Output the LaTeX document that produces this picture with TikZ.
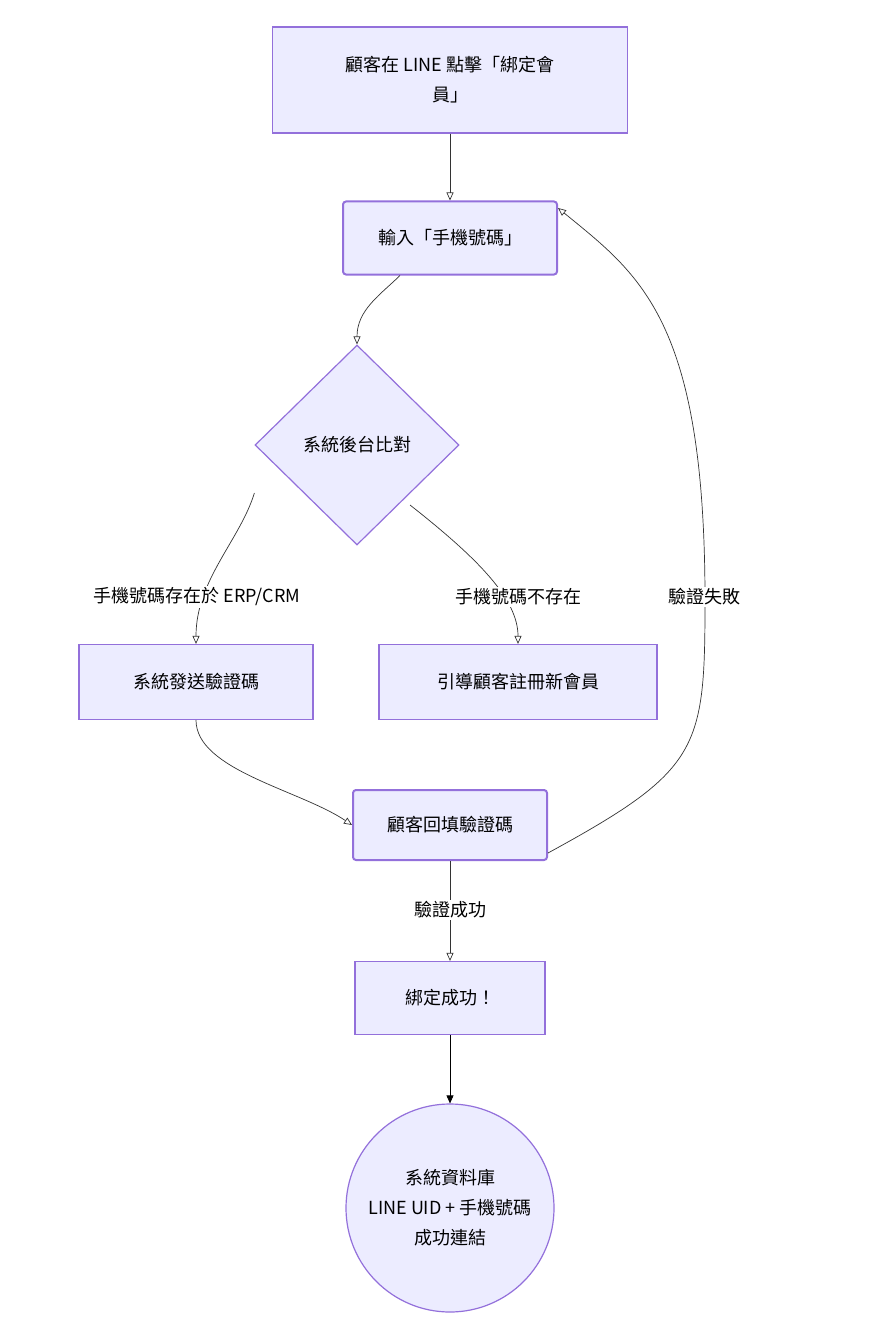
\documentclass[tikz,border=0pt]{standalone}
\usepackage{fontspec}
\setmainfont{Noto Sans CJK TC}
\usetikzlibrary{shapes.geometric,arrows.meta}
\definecolor{boxfill}{HTML}{ECECFF}
\definecolor{boxline}{HTML}{9370DB}
\tikzset{
  box/.style={draw=boxline, fill=boxfill, line width=1.2pt, align=center, inner sep=0pt},
  arr/.style={-{Triangle[open,length=8pt,width=7pt]}, line width=0.7pt, draw=black!80},
  lbl/.style={fill=white, inner sep=2pt}
}
\begin{document}
\begin{tikzpicture}[x=1pt,y=-1pt,font=\fontsize{18}{30}\selectfont]
    \useasboundingbox (0,0) rectangle (888,1340);

    \node[box, minimum width=355, minimum height=106] (line) at (450,80) {顧客在 LINE 點擊「綁定會\\員」};
    \node[box, rounded corners=3pt, line width=2pt, minimum width=214, minimum height=73] (input) at (450,238) {輸入「手機號碼」};
    \node[box, shape=diamond, aspect=1, minimum width=204, minimum height=200] (check) at (357,445) {系統後台比對};
    \node[box, minimum width=234, minimum height=75] (send) at (196,682) {系統發送驗證碼};
    \node[box, minimum width=278, minimum height=75] (guide) at (518,682) {引導顧客註冊新會員};
    \node[box, rounded corners=3pt, line width=2pt, minimum width=194, minimum height=70] (refill) at (450,825) {顧客回填驗證碼};
    \node[box, minimum width=190, minimum height=73] (done) at (450,998) {綁定成功！};
    \node[box, shape=circle, minimum size=208] (db) at (450,1208) {系統資料庫\\LINE UID + 手機號碼\\成功連結};

    \draw[arr] (line) -- (input);
    \draw[arr] ([xshift=-50]input.south) .. controls (380,295) and (357,310) .. (check.north);
    \draw[arr] (check.west |- 0,493) .. controls (240,540) and (196,580) .. (send.north);
    \draw[arr] (410,505) .. controls (480,560) and (518,600) .. (guide.north);
    \draw[arr] (send.south) .. controls (196,770) and (300,790) .. (refill.west);
    \draw[arr] ([yshift=-28]refill.east) .. controls (700,770) and (705,750) .. (705,600)
        .. controls (705,320) and (640,275) .. ([yshift=30]input.east);
    \draw[arr] (refill) -- (done);
    \draw[-{Triangle[length=8pt,width=7pt]}, line width=0.7pt] (done) -- (db);

    \node[lbl] at (197,597) {手機號碼存在於 ERP/CRM};
    \node[lbl] at (518,597) {手機號碼不存在};
    \node[lbl] at (704,597) {驗證失敗};
    \node[lbl] at (450,910) {驗證成功};
\end{tikzpicture}
\end{document}
